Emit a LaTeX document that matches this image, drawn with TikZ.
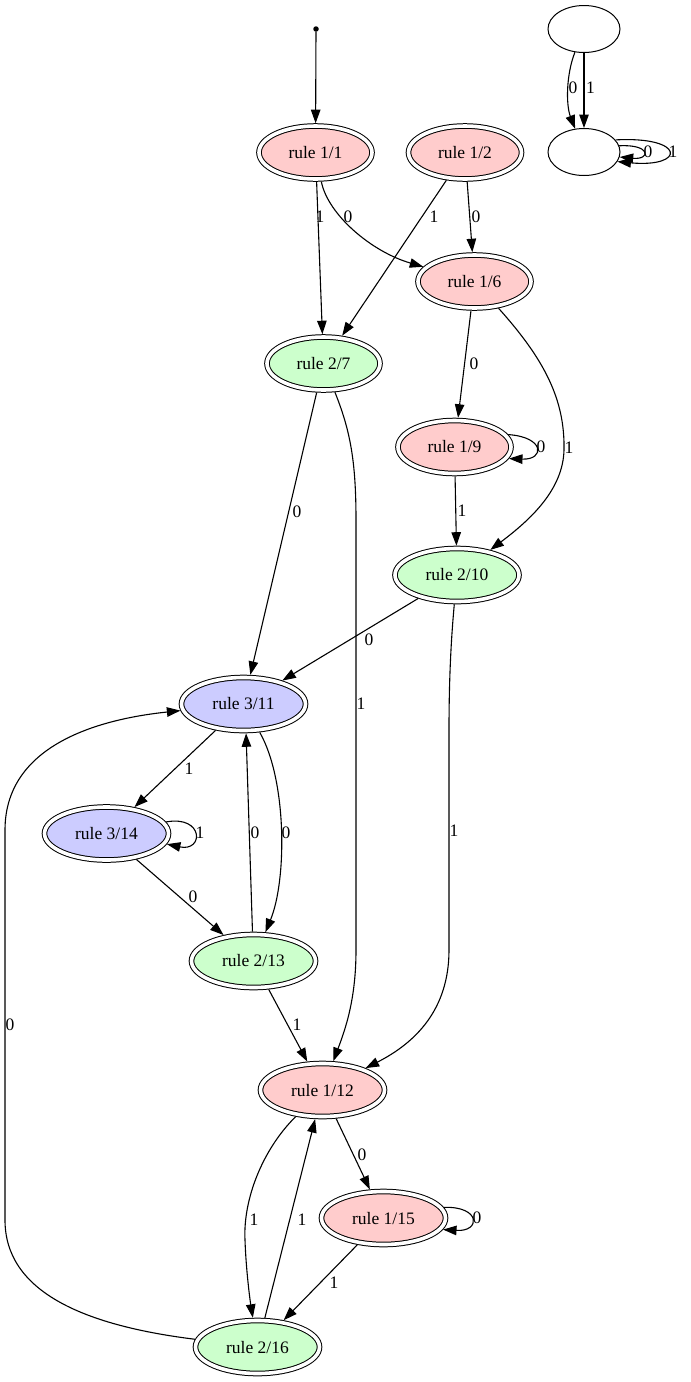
\documentclass[tikz,border=0pt]{standalone}
\usepackage{fontspec}
\setmainfont{Liberation Serif}
\usetikzlibrary{shapes.geometric,arrows.meta}
\definecolor{pk}{HTML}{FFCCCC}
\definecolor{gr}{HTML}{CCFFCC}
\definecolor{bl}{HTML}{CCCCFF}
\begin{document}
\begin{tikzpicture}[x=1pt,y=-1pt,
  st/.style={ellipse, draw, double=white, double distance=3.6pt, line width=1pt,
    inner sep=0pt, minimum width=113pt, minimum height=53pt, outer sep=2.8pt,
    font=\fontsize{17.5}{20}\selectfont},
  wide/.style={minimum width=124pt},
  pink/.style={st, fill=pk},
  green/.style={st, fill=gr},
  blue/.style={st, fill=bl},
  blank/.style={ellipse, draw, line width=1pt, minimum width=72pt, minimum height=47pt, inner sep=0pt},
  arr/.style={-{Triangle[length=13.5pt,width=9.5pt]}, line width=1.1pt},
  lbl/.style={font=\fontsize{17.5}{20}\selectfont, inner sep=0pt}]
\useasboundingbox (0,0) rectangle (691,1382);

% nodes
\node[circle, fill, inner sep=0pt, minimum size=5.5pt] (s) at (316,29) {};
\node[blank] (bA) at (584,29) {};
\node[blank] (bB) at (584,152) {};
\node[pink] (n11) at (315.5,152.5) {rule 1/1};
\node[pink] (n12) at (465,152.5) {rule 1/2};
\node[pink] (n16) at (474.5,281.5) {rule 1/6};
\node[green] (n27) at (323.5,363.5) {rule 2/7};
\node[pink] (n19) at (454.5,447) {rule 1/9};
\node[green, wide] (n210) at (457,575) {rule 2/10};
\node[blue, wide] (n311) at (243.5,704) {rule 3/11};
\node[blue, wide] (n314) at (106.5,833.5) {rule 3/14};
\node[green, wide] (n213) at (253.5,961) {rule 2/13};
\node[pink, wide] (n112) at (322.5,1090) {rule 1/12};
\node[pink, wide] (n115) at (383.5,1218) {rule 1/15};
\node[green, wide] (n216) at (257.5,1347) {rule 2/16};

% top right component
\draw[arr] (bA) .. controls (566,75) and (566,105) .. (bB.111);
\node[lbl] (l1) at (573,88) {0};
\draw[arr] (bA) -- (bB);
\node[lbl] (l2) at (590.5,88) {1};
\draw[arr] (bB.10) .. controls (651,144) and (651,160) .. (bB.-8);
\node[lbl] (l3) at (648,152) {0};
\draw[arr] (bB.21) .. controls (686,136) and (686,168) .. (bB.-16);
\node[lbl] (l4) at (673,152) {1};

% main graph
\draw[arr] (s) -- (n11);

\draw[arr] (n11) -- (n27);
\node[lbl] (l5) at (320,217) {1};
\draw[arr] (n11) .. controls (328,215) and (372,252) .. (n16);
\node[lbl] (l6) at (348,217) {0};

\draw[arr] (n12) -- (n27);
\node[lbl] (l7) at (434,217) {1};
\draw[arr] (n12) -- (n16);
\node[lbl] (l8) at (476,217) {0};

\draw[arr] (n16) -- (n19);
\node[lbl] (l9) at (474,364) {0};
\draw[arr] (n16) .. controls (545,360) and (565,400) .. (564,450)
  .. controls (563,490) and (530,520) .. (n210);
\node[lbl] (l10) at (569,448) {1};

\draw[arr] (n19.13) .. controls (545,437) and (545,460) .. (n19.-12);
\node[lbl] (l11) at (541,447) {0};
\draw[arr] (n19) -- (n210);
\node[lbl] (l12) at (462,511) {1};

\draw[arr] (n27) -- (n311);
\node[lbl] (l13) at (297,512) {0};
\draw[arr] (n27) .. controls (350,430) and (356,460) .. (356,520) -- (356,950)
  .. controls (356,1000) and (345,1030) .. (n112);
\node[lbl] (l14) at (361,704) {1};

\draw[arr] (n210) -- (n311);
\node[lbl] (l15) at (369,640) {0};
\draw[arr] (n210) .. controls (451,640) and (449,680) .. (449,730) -- (449,950)
  .. controls (449,1010) and (415,1043) .. (n112);
\node[lbl] (l16) at (454,831) {1};

\draw[arr] (n311) -- (n314);
\node[lbl] (l17) at (189,769) {1};
\draw[arr] (n311) .. controls (287,780) and (287,880) .. (n213);
\node[lbl] (l18) at (286,833) {0};
\draw[arr] (n213.92) -- (n311.-85);
\node[lbl] (l19) at (255,833) {0};

\draw[arr] (n314.11) .. controls (204,815) and (204,852) .. (n314.-10);
\node[lbl] (l20) at (200,833) {1};
\draw[arr] (n314) -- (n213);
\node[lbl] (l21) at (193,897) {0};

\draw[arr] (n213) -- (n112);
\node[lbl] (l22) at (297,1025) {1};

\draw[arr] (n112) -- (n115);
\node[lbl] (l23) at (362,1155) {0};
\draw[arr] (n112) .. controls (262,1150) and (243,1200) .. (245,1240)
  .. controls (246,1270) and (250,1300) .. (n216);
\node[lbl] (l24) at (254,1220) {1};
\draw[arr] (n216) -- (n112);
\node[lbl] (l25) at (302,1220) {1};

\draw[arr] (n115.10) .. controls (481,1206) and (481,1232) .. (n115.-11);
\node[lbl] (l26) at (477,1218) {0};
\draw[arr] (n115) -- (n216);
\node[lbl] (l27) at (334,1283) {1};

\draw[arr] (n216) .. controls (80,1325) and (5,1290) .. (5,1220) -- (5,830)
  .. controls (5,740) and (110,718) .. (n311);
\node[lbl] (l28) at (10,1025) {0};
\end{tikzpicture}
\end{document}
